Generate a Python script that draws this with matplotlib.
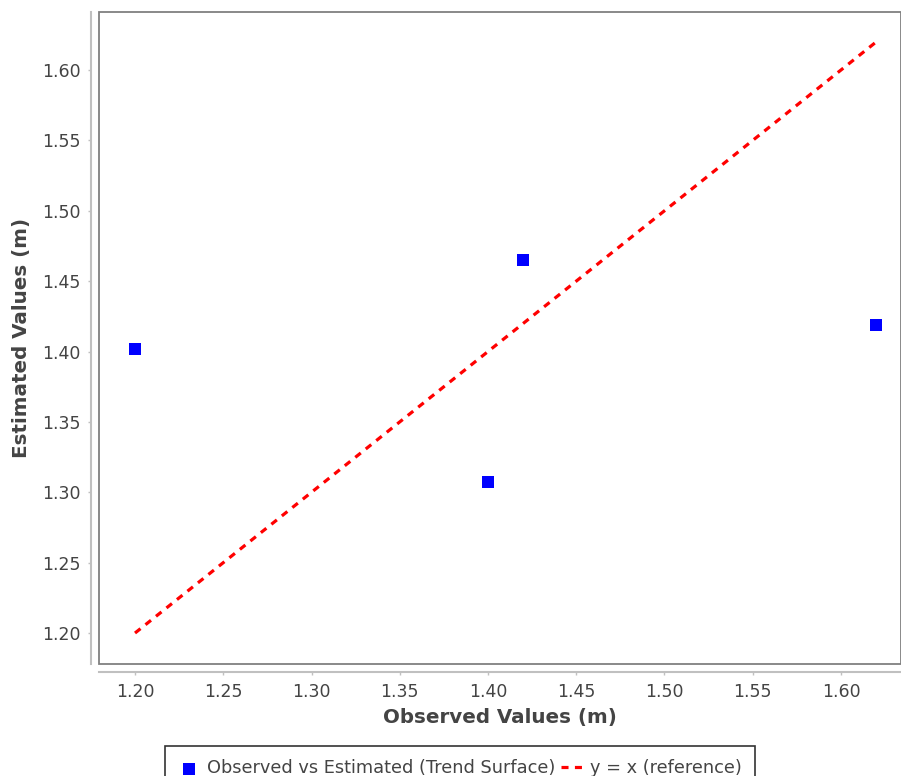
import matplotlib
matplotlib.use("Agg")
import matplotlib.pyplot as plt
from matplotlib.patches import Rectangle

observed = [1.20, 1.40, 1.42, 1.62]
estimated = [1.402, 1.307, 1.465, 1.419]
ref_x = [1.20, 1.62]
ref_y = [1.20, 1.62]
x_ticks = [1.20, 1.25, 1.30, 1.35, 1.40, 1.45, 1.50, 1.55, 1.60]
y_ticks = [1.20, 1.25, 1.30, 1.35, 1.40, 1.45, 1.50, 1.55, 1.60]

W, H = 901, 776
fig = plt.figure(figsize=(W / 100, H / 100), dpi=100)
ax = fig.add_axes([99 / W, 1 - 664 / H, (W - 99) / W, (664 - 12) / H])

ax.plot(ref_x, ref_y, color="#ff0000", lw=2.3, linestyle=(0, (2.2, 2.0)),
        label="y = x (reference)", zorder=2)
ax.scatter(observed, estimated, marker="s", s=70, color="#0000ff", linewidths=0,
           label="Observed vs Estimated (Trend Surface)", zorder=3)

ax.set_xlim(1.1796, 1.634)
ax.set_ylim(1.178, 1.6412)
ax.set_xticks(x_ticks)
ax.set_yticks(y_ticks)
ax.set_xticklabels([f"{v:.2f}" for v in x_ticks])
ax.set_yticklabels([f"{v:.2f}" for v in y_ticks])

for s in ["top", "right"]:
    ax.spines[s].set_visible(False)
for s in ["left", "bottom"]:
    ax.spines[s].set_position(("outward", 6))
    ax.spines[s].set_color("#c0c0c0")
    ax.spines[s].set_linewidth(1.5)

# plot border
ax.add_patch(Rectangle((0, 0), 1, 1, transform=ax.transAxes, fill=False,
                       edgecolor="#808080", lw=1.3, clip_on=False, zorder=5))

ax.tick_params(axis="both", length=2, width=1, color="#c0c0c0",
               labelcolor="#444444", labelsize=12.5)
ax.tick_params(axis="x", pad=6)
ax.tick_params(axis="y", pad=5)

ax.set_xlabel("Observed Values (m)", fontsize=14.3, fontweight="bold", color="#444444", labelpad=5)
ax.set_ylabel("Estimated Values (m)", fontsize=14.3, fontweight="bold", color="#444444", labelpad=8)

handles, labels = ax.get_legend_handles_labels()
order = [1, 0]
leg = fig.legend([handles[i] for i in order], [labels[i] for i in order],
                 loc="upper center", bbox_to_anchor=(460 / W, 1 - 746 / H),
                 ncol=2, frameon=True, fancybox=False, fontsize=12.8,
                 handlelength=1.2, handletextpad=0.45, columnspacing=0.3,
                 borderpad=0.75, borderaxespad=0, markerscale=1.0)
leg.get_frame().set_edgecolor("#000000")
leg.get_frame().set_linewidth(1.2)
for t in leg.get_texts():
    t.set_color("#444444")

fig.savefig("out.png", dpi=100)
